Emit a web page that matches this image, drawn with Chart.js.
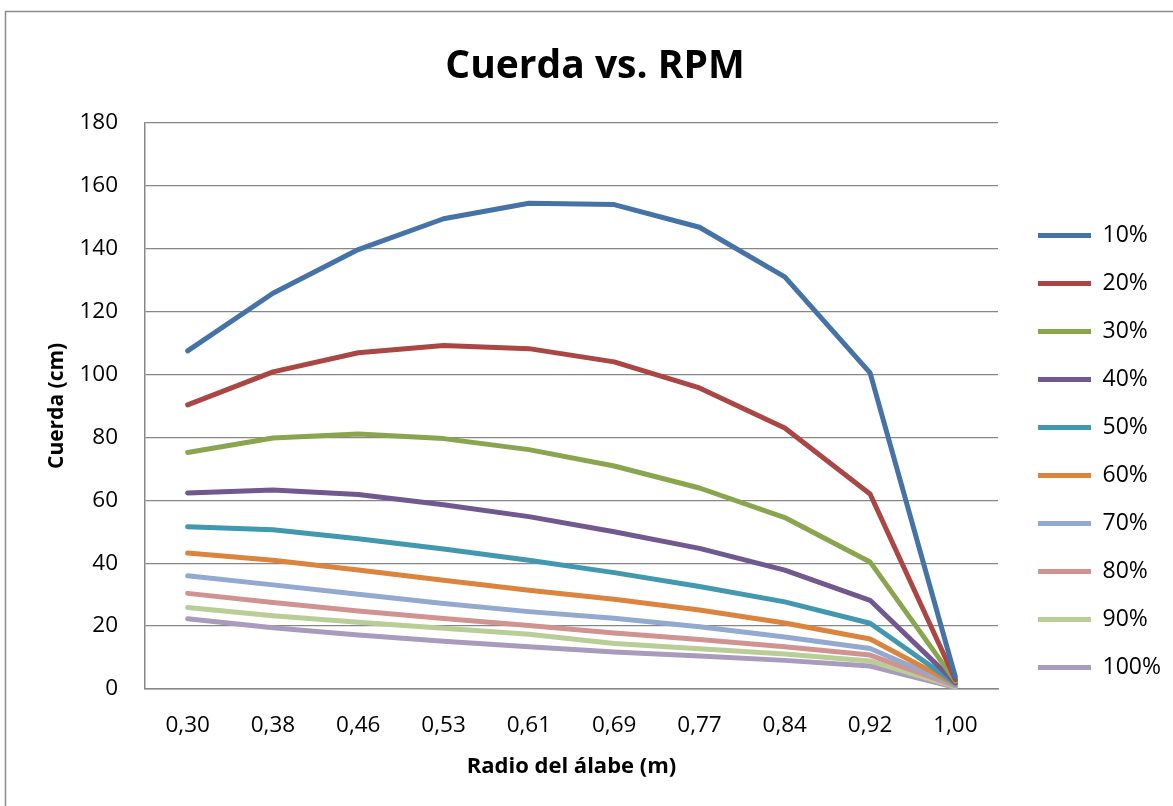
<!DOCTYPE html>
<html lang="es">
<head>
    <meta charset="UTF-8">
    <title>Cuerda vs. RPM</title>
    <script src="https://cdn.jsdelivr.net/npm/chart.js"></script>
    <style>
        html, body { margin: 0; padding: 0; background: #fff; overflow: hidden; }
        #grafico { display: block; }
    </style>
</head>
<body>
    <canvas id="grafico" width="1173" height="806"></canvas>

<script>
    // radio del alabe (m)
    var radios = ['0,30', '0,38', '0,46', '0,53', '0,61', '0,69', '0,77', '0,84', '0,92', '1,00'];
    var nombres = ['10%', '20%', '30%', '40%', '50%', '60%', '70%', '80%', '90%', '100%'];

    // cuerda (cm) por porcentaje de RPM
    var c10  = [107.5, 125.8, 139.7, 149.5, 154.4, 154.0, 146.8, 131.0, 100.5, 3.8];
    var c20  = [90.3, 100.8, 106.9, 109.2, 108.2, 104.0, 95.7, 83.0, 62.0, 3.0];
    var c30  = [75.2, 79.8, 81.1, 79.6, 76.1, 70.9, 63.9, 54.5, 40.4, 2.5];
    var c40  = [62.3, 63.3, 61.8, 58.6, 54.8, 50.0, 44.7, 37.8, 28.2, 2.1];
    var c50  = [51.6, 50.6, 47.8, 44.5, 40.9, 37.0, 32.6, 27.7, 20.9, 1.8];
    var c60  = [43.2, 40.9, 37.8, 34.6, 31.4, 28.5, 25.1, 21.0, 15.9, 1.5];
    var c70  = [36.0, 33.1, 30.1, 27.2, 24.6, 22.5, 19.8, 16.5, 12.9, 1.2];
    var c80  = [30.4, 27.5, 24.8, 22.4, 20.2, 17.8, 15.7, 13.4, 10.8, 1.0];
    var c90  = [25.9, 23.3, 21.2, 19.3, 17.4, 14.5, 12.8, 11.1, 8.9, 0.8];
    var c100 = [22.3, 19.5, 17.2, 15.2, 13.4, 11.8, 10.5, 9.1, 7.3, 0.5];

    var colores = ['#4572A7', '#AA4643', '#89A54E', '#71588F', '#4198AF',
                   '#DB843D', '#93A9CF', '#D19392', '#B9CD96', '#A99BBD'];
    var series = [c10, c20, c30, c40, c50, c60, c70, c80, c90, c100];

    var fuente = '"Open Sans", Lato, sans-serif';
    var gris = '#878787';

    var datasets = series.map(function (valores, i) {
        return {
            label: nombres[i],
            data: valores,
            borderColor: colores[i],
            backgroundColor: colores[i],
            borderWidth: 5,
            borderJoinStyle: 'round',
            borderCapStyle: 'round',
            pointRadius: 0,
            pointHoverRadius: 0,
            tension: 0,
            fill: false
        };
    });

    // marco exterior del grafico
    const marco = {
        id: 'marco',
        beforeDraw(chart) {
            const ctx = chart.ctx;
            ctx.save();
            ctx.fillStyle = '#fff';
            ctx.fillRect(0, 0, chart.width, chart.height);
            ctx.strokeStyle = '#8c8c8c';
            ctx.lineWidth = 1.5;
            ctx.strokeRect(5.5, 11.5, 1300, 900);
            ctx.restore();
        }
    };

    // acomodar la leyenda como en el original
    const moverLeyenda = {
        id: 'moverLeyenda',
        afterLayout(chart) {
            chart.legend.left = 1013;
            chart.legend.right = 1173;
            chart.legend.width = 160;
            chart.legend.top = 199;
        }
    };

    const config = {
        type: 'line',
        data: { labels: radios, datasets: datasets },
        options: {
            responsive: false,
            animation: false,
            layout: { padding: { left: 34, right: 17, top: 0, bottom: 15 } },
            plugins: {
                title: {
                    display: true,
                    text: 'Cuerda vs. RPM',
                    color: '#000',
                    font: { family: fuente, size: 39, weight: 'bold' },
                    padding: { top: 43, bottom: 33 }
                },
                legend: {
                    position: 'right',
                    align: 'start',
                    labels: {
                        color: '#000',
                        font: { family: fuente, size: 23 },
                        boxWidth: 53,
                        boxHeight: 5,
                        padding: 25,
                        generateLabels: function (chart) {
                            return Chart.defaults.plugins.legend.labels.generateLabels(chart).map(function (item) {
                                item.lineWidth = 0;
                                return item;
                            });
                        }
                    }
                },
                tooltip: { enabled: false }
            },
            scales: {
                x: {
                    offset: true,
                    afterFit: function (scale) { scale.height = 102; },
                    grid: { display: false, drawTicks: false },
                    border: { display: true, color: gris, width: 1.5 },
                    ticks: { color: '#000', font: { family: fuente, size: 22.5 }, padding: 23, maxRotation: 0 },
                    title: {
                        display: true,
                        text: 'Radio del álabe (m)',
                        color: '#000',
                        font: { family: fuente, size: 22, weight: 'bold' },
                        padding: { top: 14, bottom: 11 }
                    }
                },
                y: {
                    min: 0,
                    max: 180,
                    afterFit: function (scale) { scale.width = 111; },
                    grid: { color: gris, lineWidth: 1.3, drawTicks: false },
                    border: { display: true, color: gris, width: 1.5 },
                    ticks: { stepSize: 20, color: '#000', font: { family: fuente, size: 22.5 }, padding: 27 },
                    title: {
                        display: true,
                        text: 'Cuerda (cm)',
                        color: '#000',
                        font: { family: fuente, size: 21, weight: 'bold' },
                        padding: { top: 10, bottom: 10 }
                    }
                }
            }
        },
        plugins: [marco, moverLeyenda]
    };

    const grafico = new Chart(document.getElementById('grafico'), config);
</script>
</body>
</html>
